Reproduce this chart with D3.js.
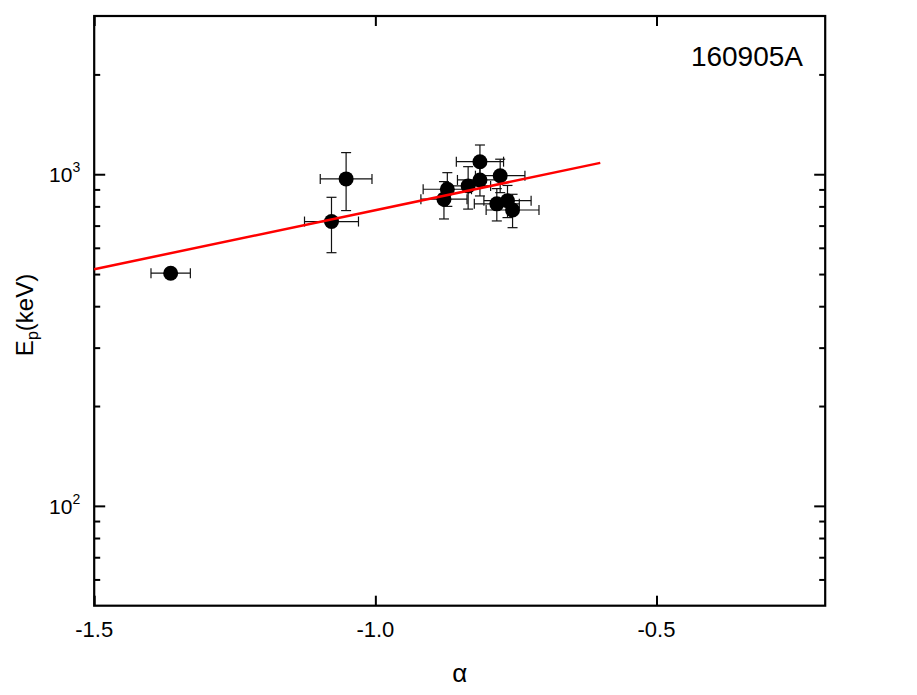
<!DOCTYPE html>
<html>
<head>
<meta charset="utf-8">
<script src="https://cdn.jsdelivr.net/npm/d3@7"></script>
<style>
  body { margin: 0; background: #fff; }
  svg { font-family: "Liberation Sans", Arial, sans-serif; }
</style>
</head>
<body>
<svg id="Vis" width="917" height="695"></svg>
<script>
/* DATA: alpha vs peak energy, GRB 160905A */
const alpha    = [-1.364, -1.078, -1.052, -0.878, -0.872, -0.835, -0.814, -0.814, -0.784, -0.778, -0.765, -0.756];
const alphaErr = [ 0.035,  0.048,  0.046,  0.041,  0.043,  0.040,  0.042,  0.040,  0.040,  0.044,  0.042,  0.047];
const ep       = [503, 720, 968, 841, 901, 922, 1091, 961, 814, 990, 832, 780];
const epLow    = [495, 580, 777, 733, 800, 785,  960, 860, 723, 880, 740, 690];
const epHigh   = [511, 852, 1162, 950, 1011, 1054, 1225, 1060, 905, 1110, 925, 870];

// best fit line end points
const fitAlpha = [-1.5, -0.6];
const fitEp    = [517, 1082];

const xTicks = [-1.5, -1.0, -0.5];
const yMajor = [100, 1000];
const yMinor = [60, 70, 80, 90, 200, 300, 400, 500, 600, 700, 800, 900, 2000];

const margin = { top: 16, left: 94.2, right: 91.8, bottom: 89.3 };

const svg = d3.select("svg#Vis");
const width = 917 - margin.left - margin.right;
const height = 695 - margin.top - margin.bottom;

const plot = svg.append("g")
  .attr("transform", "translate(" + margin.left + "," + margin.top + ")");

/* SCALES */
const xScale = d3.scaleLinear().domain([-1.5, -0.2]).range([0, width]);
const yScale = d3.scaleLog().domain([50, 3000]).range([height, 0]);

/* AXES (ticks point inward, mirrored on all sides) */
const fmt = () => "";
plot.append("g").attr("transform", "translate(0," + height + ")")
  .call(d3.axisTop(xScale).tickValues(xTicks).tickSize(10).tickFormat(fmt));
plot.append("g")
  .call(d3.axisBottom(xScale).tickValues(xTicks).tickSize(10).tickFormat(fmt));
plot.append("g")
  .call(d3.axisRight(yScale).tickValues(yMajor).tickSize(11).tickFormat(fmt));
plot.append("g")
  .call(d3.axisRight(yScale).tickValues(yMinor).tickSize(6).tickFormat(fmt));
plot.append("g").attr("transform", "translate(" + width + ",0)")
  .call(d3.axisLeft(yScale).tickValues(yMajor).tickSize(11).tickFormat(fmt));
plot.append("g").attr("transform", "translate(" + width + ",0)")
  .call(d3.axisLeft(yScale).tickValues(yMinor).tickSize(6).tickFormat(fmt));

plot.selectAll(".domain").remove();
plot.selectAll(".tick line").attr("stroke", "#000").attr("stroke-width", 2);

plot.append("rect")
  .attr("width", width).attr("height", height)
  .attr("fill", "none").attr("stroke", "#000").attr("stroke-width", 2.2);

// x tick labels
plot.selectAll(".xlab").data(xTicks).enter().append("text")
  .attr("x", d => xScale(d))
  .attr("y", height + 31)
  .attr("text-anchor", "middle")
  .attr("font-size", 22)
  .text(d => d.toFixed(1));

// y tick labels 10^n
const ylab = plot.selectAll(".ylab").data(yMajor).enter().append("text")
  .attr("x", -14)
  .attr("y", d => yScale(d) + 8)
  .attr("text-anchor", "end")
  .attr("font-size", 21);
ylab.append("tspan").text("10");
ylab.append("tspan").attr("font-size", 14).attr("dy", -10)
  .text(d => Math.round(Math.log10(d)));

// axis titles
svg.append("text")
  .attr("x", margin.left + width / 2)
  .attr("y", 682)
  .attr("text-anchor", "middle")
  .attr("font-size", 26)
  .text("\u03b1");

const yTitle = svg.append("text")
  .attr("transform", "translate(33,315) rotate(-90)")
  .attr("text-anchor", "middle")
  .attr("font-size", 24);
yTitle.append("tspan").text("E");
yTitle.append("tspan").attr("font-size", 16).attr("dy", 5).text("p");
yTitle.append("tspan").attr("dy", -5).text("(keV)");

// label
plot.append("text")
  .attr("x", 803 - margin.left)
  .attr("y", 66 - margin.top)
  .attr("text-anchor", "end")
  .attr("font-size", 28)
  .text("160905A");

/* ERROR BARS */
const idx = d3.range(alpha.length);
const eb = plot.append("g").attr("stroke", "#111").attr("stroke-width", 1.2);

eb.selectAll(".hx").data(idx).enter().append("line")
  .attr("x1", i => xScale(alpha[i] - alphaErr[i]))
  .attr("x2", i => xScale(alpha[i] + alphaErr[i]))
  .attr("y1", i => yScale(ep[i])).attr("y2", i => yScale(ep[i]));
eb.selectAll(".hcapl").data(idx).enter().append("line")
  .attr("x1", i => xScale(alpha[i] - alphaErr[i]))
  .attr("x2", i => xScale(alpha[i] - alphaErr[i]))
  .attr("y1", i => yScale(ep[i]) - 5).attr("y2", i => yScale(ep[i]) + 5);
eb.selectAll(".hcapr").data(idx).enter().append("line")
  .attr("x1", i => xScale(alpha[i] + alphaErr[i]))
  .attr("x2", i => xScale(alpha[i] + alphaErr[i]))
  .attr("y1", i => yScale(ep[i]) - 5).attr("y2", i => yScale(ep[i]) + 5);

eb.selectAll(".vy").data(idx).enter().append("line")
  .attr("x1", i => xScale(alpha[i])).attr("x2", i => xScale(alpha[i]))
  .attr("y1", i => yScale(epLow[i])).attr("y2", i => yScale(epHigh[i]));
eb.selectAll(".vcapl").data(idx).enter().append("line")
  .attr("x1", i => xScale(alpha[i]) - 5).attr("x2", i => xScale(alpha[i]) + 5)
  .attr("y1", i => yScale(epLow[i])).attr("y2", i => yScale(epLow[i]));
eb.selectAll(".vcaph").data(idx).enter().append("line")
  .attr("x1", i => xScale(alpha[i]) - 5).attr("x2", i => xScale(alpha[i]) + 5)
  .attr("y1", i => yScale(epHigh[i])).attr("y2", i => yScale(epHigh[i]));

/* POINTS */
plot.append("g").selectAll("circle").data(idx).enter().append("circle")
  .attr("cx", i => xScale(alpha[i]))
  .attr("cy", i => yScale(ep[i]))
  .attr("r", 7.5)
  .attr("fill", "#000");

/* FIT LINE */
const line = d3.line().x(d => xScale(d[0])).y(d => yScale(d[1]));
plot.append("path")
  .datum(fitAlpha.map((a, i) => [a, fitEp[i]]))
  .attr("d", line)
  .attr("fill", "none")
  .attr("stroke", "#ff0000")
  .attr("stroke-width", 2.5);
</script>
</body>
</html>
